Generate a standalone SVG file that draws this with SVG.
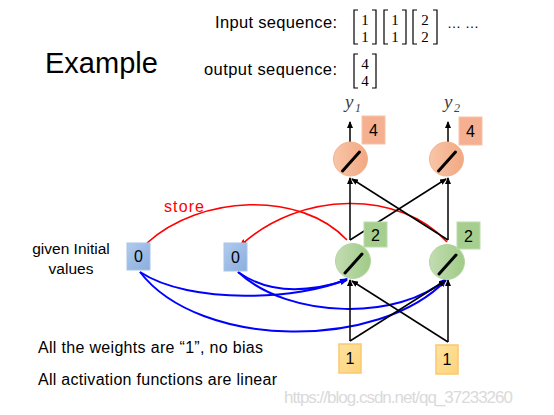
<svg xmlns="http://www.w3.org/2000/svg" width="554" height="415" viewBox="0 0 554 415">
<defs>
<linearGradient id="gOut" x1="0" y1="0" x2="1" y2="0"><stop offset="0" stop-color="#f8c6a8"/><stop offset="1" stop-color="#f2a882"/></linearGradient>
<linearGradient id="gHid" x1="0" y1="0" x2="1" y2="0"><stop offset="0" stop-color="#c3dcb2"/><stop offset="1" stop-color="#9fcb86"/></linearGradient>
<linearGradient id="gBlue" x1="0" y1="0" x2="1" y2="1"><stop offset="0" stop-color="#b0cbee"/><stop offset="1" stop-color="#8aaedd"/></linearGradient>
<linearGradient id="gIn" x1="0" y1="0" x2="1" y2="1"><stop offset="0" stop-color="#ffe3a0"/><stop offset="1" stop-color="#fdd37a"/></linearGradient>
<marker id="aBlk" markerWidth="7" markerHeight="6" refX="6" refY="3" orient="auto" markerUnits="userSpaceOnUse"><path d="M0,0 L7,3 L0,6 Z" fill="#000"/></marker>
<marker id="aBlue" markerWidth="8" markerHeight="6" refX="7" refY="3" orient="auto" markerUnits="userSpaceOnUse"><path d="M0,0 L8,3 L0,6 Z" fill="#0000ff"/></marker>
<marker id="aRed" markerWidth="8" markerHeight="6" refX="7" refY="3" orient="auto" markerUnits="userSpaceOnUse"><path d="M0,0 L8,3 L0,6 Z" fill="#ff0000"/></marker>
</defs>
<style>
.t{font-family:"Liberation Sans",Arial,sans-serif;fill:#000}
.m{font-family:"Liberation Serif","Times New Roman",serif;font-size:15px;fill:#000;text-anchor:middle}
.br{fill:none;stroke:#000;stroke-width:1.2}
.out{fill:url(#gOut);stroke:#f4b48c;stroke-width:1}
.hid{fill:url(#gHid);stroke:#b5d6a0;stroke-width:1}
.sl{stroke:#000;stroke-width:3;stroke-linecap:round}
.b4{fill:#f4b090;stroke:#f7c3a8;stroke-width:1}
.b2{fill:#a6cf8f;stroke:#bcdcaa;stroke-width:1}
.b0{fill:url(#gBlue);stroke:#a9c4e8;stroke-width:1}
.b1{fill:url(#gIn);stroke:#fbc870;stroke-width:1.5}
.bt{font-family:"Liberation Sans",Arial,sans-serif;font-size:16px;fill:#000;text-anchor:middle}
.k{fill:none;stroke:#000;stroke-width:1.5;marker-end:url(#aBlk)}
.bl{fill:none;stroke:#0000ff;stroke-width:2;marker-end:url(#aBlue)}
.rd{fill:none;stroke:#ff0000;stroke-width:1.6}
.y{font-family:"Liberation Serif","Times New Roman",serif;font-style:italic;fill:#404040}
</style>
<rect width="554" height="415" fill="#fff"/>

<text class="t" x="45" y="73" font-size="29">Example</text>
<text class="t" x="215" y="28" font-size="16.5" textLength="122">Input sequence:</text>
<text class="t" x="204" y="75" font-size="16.5" textLength="133">output sequence:</text>

<g id="matrix-in1">
<path class="br" d="M358,10 H354 V44 H358 M372,10 H376 V44 H372"/>
<text class="m" x="365" y="25">1</text><text class="m" x="365" y="42">1</text>
</g>
<g id="matrix-in2">
<path class="br" d="M388,10 H384 V44 H388 M402,10 H406 V44 H402"/>
<text class="m" x="395" y="25">1</text><text class="m" x="395" y="42">1</text>
</g>
<g id="matrix-in3">
<path class="br" d="M417,10 H413 V44 H417 M433,10 H437 V44 H433"/>
<text class="m" x="425" y="25">2</text><text class="m" x="425" y="42">2</text>
</g>
<text class="t" x="447" y="28" font-size="14">… …</text>
<g id="matrix-out">
<path class="br" d="M358,54 H354 V88 H358 M372,54 H376 V88 H372"/>
<text class="m" x="365" y="69">4</text><text class="m" x="365" y="86">4</text>
</g>

<g id="connectors">
<path class="rd" d="M147,243 C200,195 300,190 347,240"/>
<path class="rd" d="M447,242 C400,190 300,190 240,246" marker-end="url(#aRed)"/>
<path class="bl" d="M140,272 C190,305 300,300 347,279"/>
<path class="bl" d="M140,272 C200,350 380,350 446,280"/>
<path class="bl" d="M238,272 C270,295 310,292 347,280"/>
<path class="bl" d="M238,272 C290,320 400,320 446,279"/>
<path class="k" d="M350,341 V280"/>
<path class="k" d="M350,341 L445,281"/>
<path class="k" d="M448,342 V280"/>
<path class="k" d="M448,342 L352,281"/>
<path class="k" d="M350,240 V178"/>
<path class="k" d="M350,240 L446,179"/>
<path class="k" d="M448,240 V178"/>
<path class="k" d="M448,240 L352,179"/>
<path class="k" d="M350,142 V122"/>
<path class="k" d="M448,142 V122"/>
</g>
<text x="164" y="212" font-family="Liberation Sans, Arial, sans-serif" font-size="16" fill="#ff0000" textLength="40">store</text>

<g id="y1"><text class="y" x="345" y="108" font-size="19">y</text><text class="y" x="355" y="112" font-size="12" font-style="normal">1</text></g>
<g id="y2"><text class="y" x="444" y="108" font-size="19">y</text><text class="y" x="454" y="112" font-size="12" font-style="normal">2</text></g>

<g id="out1"><circle class="out" cx="350.5" cy="159" r="17"/><line class="sl" x1="342.5" y1="171" x2="359.5" y2="152"/></g>
<g id="out2"><circle class="out" cx="446.5" cy="159" r="17"/><line class="sl" x1="438.5" y1="171" x2="455.5" y2="152"/></g>
<g id="val-out1"><rect class="b4" x="362" y="116" width="23" height="28"/><text class="bt" x="373.5" y="136">4</text></g>
<g id="val-out2"><rect class="b4" x="459" y="117" width="23" height="28"/><text class="bt" x="470.5" y="137">4</text></g>

<g id="hid1"><circle class="hid" cx="353" cy="261" r="17.5"/><line class="sl" x1="345" y1="273" x2="362" y2="254"/></g>
<g id="hid2"><circle class="hid" cx="447" cy="262" r="17.5"/><line class="sl" x1="439" y1="274" x2="456" y2="255"/></g>
<g id="val-hid1"><rect class="b2" x="364" y="222" width="23" height="25"/><text class="bt" x="375.5" y="241">2</text></g>
<g id="val-hid2"><rect class="b2" x="457" y="222" width="23" height="27"/><text class="bt" x="468.5" y="242">2</text></g>

<g id="mem1"><rect class="b0" x="127" y="243" width="23" height="27"/><text class="bt" x="138.5" y="262">0</text></g>
<g id="mem2"><rect class="b0" x="224" y="243" width="23" height="28"/><text class="bt" x="235.5" y="263">0</text></g>

<g id="in1"><rect class="b1" x="339" y="344" width="22" height="29"/><text class="bt" x="350" y="364">1</text></g>
<g id="in2"><rect class="b1" x="436" y="345" width="22" height="29"/><text class="bt" x="447" y="365">1</text></g>

<text class="t" x="71" y="254" font-size="15.5" text-anchor="middle">given Initial</text>
<text class="t" x="71" y="274" font-size="15.5" text-anchor="middle">values</text>
<text class="t" x="38" y="353" font-size="16" textLength="225">All the weights are “1”, no bias</text>
<text class="t" x="38" y="385" font-size="16" textLength="239">All activation functions are linear</text>
<text x="284" y="403" font-family="Liberation Sans, Arial, sans-serif" font-size="17" fill="#dadada" textLength="229">https://blog.csdn.net/qq_37233260</text>
</svg>
